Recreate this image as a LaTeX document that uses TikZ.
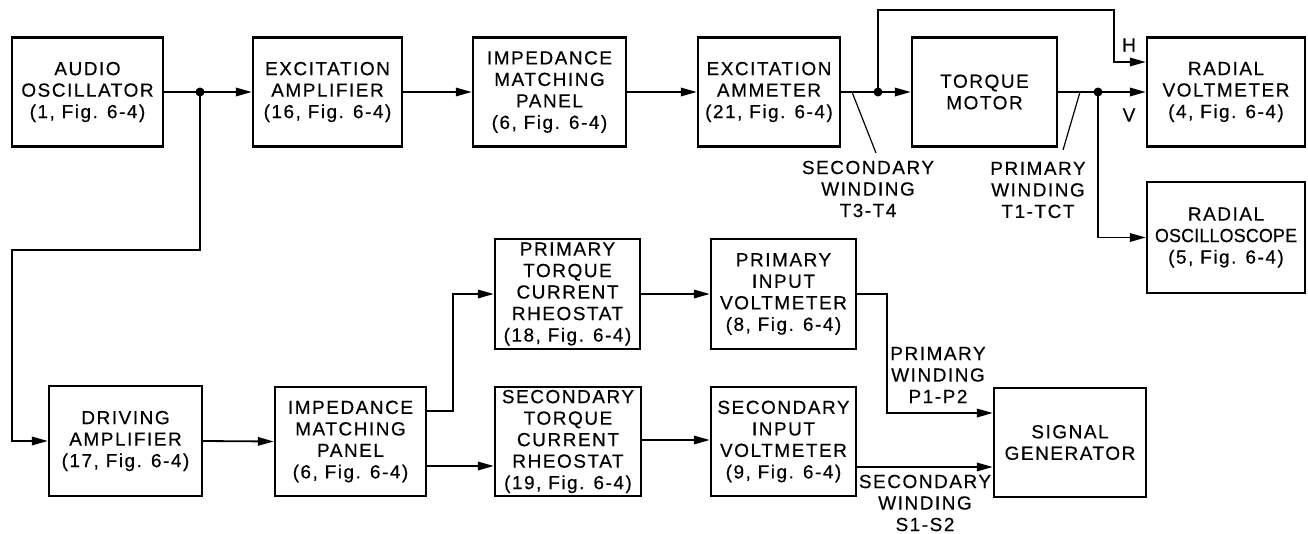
\documentclass[tikz,border=0pt]{standalone}
\usepackage{fontspec}
\setmainfont{Liberation Sans}[LetterSpace=8,FakeBold=0.4]
\usetikzlibrary{arrows.meta}
\begin{document}
\begin{tikzpicture}[x=1pt,y=-1pt,
  txt/.style={font=\fontsize{19}{21.5}\selectfont, align=center},
  box/.style={draw, line width=2.4pt, inner sep=0pt, txt, minimum height=109pt},
  lbl/.style={txt, inner sep=0pt},
  conn/.style={line width=1.8pt},
  arr/.style={-{Triangle[length=16pt,width=8.5pt]}},
  dot/.style={circle, fill, inner sep=0pt, minimum size=9pt}]
\useasboundingbox (0,0) rectangle (1308,533);
% top row
\node[box, minimum width=151pt] (osc) at (87.5,92) {AUDIO\\OSCILLATOR\\(1, Fig. 6-4)};
\node[box, minimum width=149pt] (exc) at (327.5,92) {EXCITATION\\AMPLIFIER\\(16, Fig. 6-4)};
\node[box, minimum width=153pt] (imp1) at (549.5,92) {IMPEDANCE\\MATCHING\\PANEL\\(6, Fig. 6-4)};
\node[box, minimum width=142pt] (amm) at (769,92) {EXCITATION\\AMMETER\\(21, Fig. 6-4)};
\node[box, minimum width=145pt] (tor) at (984.5,92) {TORQUE\\MOTOR};
\node[box, minimum width=158pt] (rv) at (1226,92) {RADIAL\\VOLTMETER\\(4, Fig. 6-4)};
\node[box, minimum width=158pt, minimum height=111pt] (ro) at (1226,237.5) {RADIAL\\{\addfontfeature{LetterSpace=1,FakeStretch=0.94}OSCILLOSCOPE}\\(5, Fig. 6-4)};
% bottom rows
\node[box, minimum width=153pt, minimum height=110pt] (drv) at (125.5,441) {DRIVING\\AMPLIFIER\\(17, Fig. 6-4)};
\node[box, minimum width=151pt] (imp2) at (350.5,441.5) {IMPEDANCE\\MATCHING\\PANEL\\(6, Fig. 6-4)};
\node[box, minimum width=145pt, minimum height=110pt] (ptr) at (567.5,294) {PRIMARY\\TORQUE\\CURRENT\\RHEOSTAT\\(18, Fig. 6-4)};
\node[box, minimum width=146pt] (str) at (568,441.5) {SECONDARY\\TORQUE\\CURRENT\\RHEOSTAT\\(19, Fig. 6-4)};
\node[box, minimum width=145pt, minimum height=110pt] (piv) at (783.5,294) {PRIMARY\\INPUT\\VOLTMETER\\(8, Fig. 6-4)};
\node[box, minimum width=145pt] (siv) at (783.5,441.5) {SECONDARY\\INPUT\\VOLTMETER\\(9, Fig. 6-4)};
\node[box, minimum width=152pt] (sg) at (1070,442.5) {SIGNAL\\GENERATOR};
% junctions
\node[dot] (j1) at (200,92) {};
\node[dot] (j2) at (878,92) {};
\node[dot] (j3) at (1098,92) {};
% labels
\node[lbl] (lh) at (1129,45) {H};
\node[lbl] (lv) at (1129,115) {V};
\node[lbl] (lsw) at (868,189) {SECONDARY\\WINDING\\T3-T4};
\node[lbl] (lpw) at (1038,190) {PRIMARY\\WINDING\\T1-TCT};
\node[lbl] (lpp) at (938,375) {PRIMARY\\WINDING\\P1-P2};
\node[lbl] (lss) at (925,503) {SECONDARY\\WINDING\\S1-S2};
% connectors top
\draw[conn] (osc.east) -- (j1.center);
\draw[conn,arr] (j1.center) -- (exc.west);
\draw[conn,arr] (j1.center) -- (200,250) -- (12,250) |- (drv.west);
\draw[conn,arr] (exc.east) -- (imp1.west);
\draw[conn,arr] (imp1.east) -- (amm.west);
\draw[conn] (amm.east) -- (j2.center);
\draw[conn,arr] (j2.center) -- (tor.west);
\draw[conn,arr] (j2.center) -- (878,10) -| (1114,62) -- (rv.west |- 0,62);
\draw[conn] (tor.east) -- (j3.center);
\draw[conn,arr] (j3.center) -- (rv.west);
\draw[conn,arr] (j3.center) |- (ro.west);
% winding ticks
\coordinate (t1a) at (852,92);
\coordinate (t1b) at (876,153);
\coordinate (t2a) at (1080,92);
\coordinate (t2b) at (1063,150);
\draw[line width=1.2pt] (t1a) -- (t1b);
\draw[line width=1.2pt] (t2a) -- (t2b);
% connectors bottom
\draw[conn,arr] (drv.east) -- (imp2.west);
\draw[conn,arr] (imp2.east |- 0,411) -- (453,411) |- (ptr.west);
\draw[conn,arr] (imp2.east |- 0,466) -- (str.west |- 0,466);
\draw[conn,arr] (ptr.east) -- (piv.west);
\draw[conn,arr] (str.east |- 0,440) -- (siv.west |- 0,440);
\draw[conn,arr] (piv.east) -- (887,294) |- (sg.west |- 0,413);
\draw[conn,arr] (siv.east |- 0,467) -- (sg.west |- 0,467);
\end{tikzpicture}
\end{document}
